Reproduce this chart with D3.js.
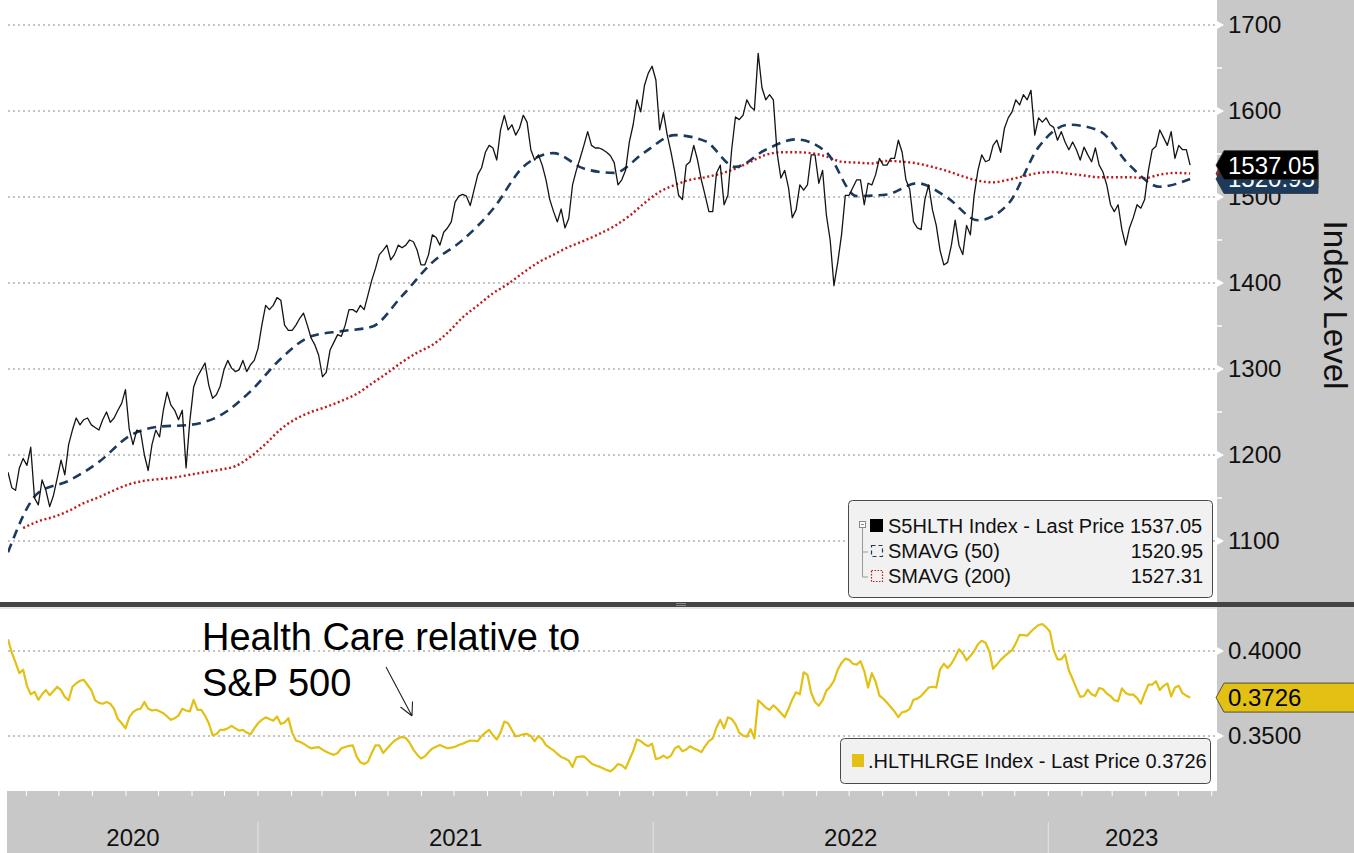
<!DOCTYPE html>
<html><head><meta charset="utf-8">
<script src="https://cdn.jsdelivr.net/npm/d3@7"></script>
<style>
body{margin:0;background:#fff}
svg{display:block}
text{font-family:"Liberation Sans",Arial,sans-serif}
</style>
</head><body>
<svg id="chart" width="1354" height="853"></svg>
<script>
// ---------- DATA ----------
const startDate = new Date(2020, 4, 15);   // first observation
const endDate = new Date(2023, 5, 4);      // right edge of the time axis
const stepHours = 84;                      // observations every 3.5 days
// S5HLTH Index (half-weekly)
const priceValues = [
 1180,1162,1159,1185,1196,1188,1209,1150,1142,1171,1159,1140,1153,1173,1194,1177,1212,1229,1243,1235,
 1241,1243,1235,1232,1229,1241,1250,1238,1243,1252,1260,1276,1230,1212,1229,1227,1200,1182,1212,1229,
 1221,1252,1273,1258,1252,1241,1252,1185,1240,1279,1291,1299,1307,1281,1266,1270,1280,1299,1310,1301,
 1297,1299,1310,1297,1305,1310,1324,1351,1374,1369,1374,1383,1380,1351,1345,1345,1351,1359,1365,1351,
 1336,1328,1316,1291,1296,1322,1331,1340,1338,1351,1369,1369,1366,1374,1369,1386,1403,1417,1433,1438,
 1444,1427,1433,1444,1441,1444,1450,1448,1438,1421,1421,1433,1456,1453,1444,1459,1464,1471,1494,1501,
 1503,1501,1490,1508,1526,1534,1552,1560,1557,1543,1578,1595,1578,1584,1572,1580,1595,1587,1555,1543,
 1549,1537,1520,1497,1483,1471,1486,1464,1475,1514,1531,1545,1560,1576,1560,1557,1557,1555,1552,1548,
 1540,1514,1520,1531,1564,1584,1613,1599,1630,1644,1652,1636,1578,1598,1572,1552,1529,1502,1497,1537,
 1541,1560,1543,1520,1502,1483,1483,1528,1537,1491,1502,1555,1593,1590,1595,1613,1605,1601,1667,1627,
 1613,1619,1613,1551,1522,1531,1511,1476,1485,1514,1508,1514,1549,1549,1516,1531,1479,1450,1397,1424,
 1456,1502,1502,1511,1520,1520,1491,1516,1514,1526,1545,1537,1537,1545,1545,1566,1552,1520,1509,1471,
 1464,1462,1497,1514,1485,1467,1438,1421,1424,1444,1473,1444,1433,1467,1456,1502,1531,1549,1541,1543,
 1560,1566,1552,1580,1592,1599,1613,1607,1619,1613,1624,1572,1592,1587,1592,1584,1581,1566,1576,1564,
 1555,1564,1555,1543,1558,1549,1541,1557,1537,1529,1514,1491,1483,1491,1462,1444,1464,1476,1491,1487,
 1497,1531,1555,1559,1578,1569,1560,1576,1545,1560,1555,1555,1537.05];
// SMAVG (50), every 4 weeks from startDate
const sma50Values = [
 1087,1156,1170,1192,1222,1233,1235,1246,1274,1312,
 1338,1344,1349,1385,1424,1450,1486,1535,1551,1533,
 1528,1552,1572,1565,1535,1555,1567,1552,1501,1503,
 1516,1499,1473,1492,1558,1584,1577,1537,1512,1520.95];
// SMAVG (200), every 2 weeks starting 2 weeks after startDate
const sma200Values = [
 1115,1123,1128,1135,1144,1151,1159,1166,1170,1172,
 1174,1177,1180,1183,1187,1198,1213,1230,1242,1250,
 1256,1263,1271,1283,1295,1308,1319,1328,1342,1360,
 1374,1388,1399,1412,1424,1433,1442,1449,1457,1466,
 1478,1493,1506,1514,1520,1523,1527,1533,1541,1549,
 1552,1552,1551,1547,1541,1540,1539,1542,1541,1539,
 1535,1530,1524,1519,1517,1520,1524,1528,1529,1527,
 1525,1523,1523,1523,1522,1526,1528,1527.31];
// .HLTHLRGE Index (Health Care relative to S&P 500), half-weekly
const relValues = [
 0.4069,0.399,0.3931,0.387,0.389,0.3795,0.3745,0.376,0.3713,0.3745,0.377,0.374,0.3765,0.379,0.377,0.373,0.371,0.379,0.381,0.3825,
 0.383,0.380,0.377,0.371,0.3695,0.369,0.370,0.369,0.366,0.360,0.3575,0.3545,0.361,0.364,0.3655,0.366,0.370,0.366,0.365,0.3654,
 0.3645,0.3634,0.3615,0.3595,0.3605,0.362,0.366,0.365,0.3645,0.3713,0.3654,0.3654,0.362,0.3575,0.3505,0.351,0.3536,0.3536,0.3545,0.356,
 0.3545,0.3532,0.3536,0.352,0.351,0.3545,0.3575,0.3595,0.361,0.360,0.359,0.3615,0.357,0.358,0.3605,0.352,0.3473,0.3466,0.3455,0.344,
 0.3427,0.3432,0.3435,0.342,0.3407,0.3397,0.3389,0.340,0.3428,0.3435,0.3442,0.3445,0.338,0.3345,0.3335,0.3348,0.340,0.3445,0.3445,0.340,
 0.3425,0.345,0.3472,0.3485,0.3495,0.3488,0.346,0.342,0.339,0.3368,0.338,0.3405,0.3427,0.3437,0.3447,0.3437,0.3428,0.3432,0.3437,0.3447,
 0.3455,0.3465,0.3473,0.3472,0.347,0.350,0.352,0.3536,0.3505,0.348,0.352,0.3585,0.3575,0.3535,0.3498,0.3503,0.351,0.3512,0.350,0.347,
 0.350,0.348,0.3447,0.343,0.3415,0.3395,0.3377,0.3368,0.3355,0.3318,0.3375,0.3379,0.338,0.336,0.3338,0.3328,0.332,0.331,0.330,0.3292,
 0.331,0.3335,0.3328,0.3308,0.336,0.341,0.348,0.347,0.3452,0.344,0.3455,0.3365,0.337,0.3385,0.337,0.3385,0.3427,0.344,0.341,0.342,
 0.344,0.3427,0.3417,0.3405,0.344,0.347,0.3486,0.355,0.3595,0.3545,0.361,0.360,0.357,0.352,0.3502,0.3496,0.354,0.3486,0.371,0.369,
 0.3667,0.3654,0.368,0.366,0.3635,0.361,0.366,0.3715,0.3757,0.3745,0.3875,0.386,0.3755,0.370,0.3678,0.371,0.3767,0.379,0.3825,0.389,
 0.393,0.3955,0.3948,0.3925,0.392,0.394,0.3882,0.3785,0.387,0.382,0.3738,0.372,0.3695,0.367,0.3644,0.3611,0.364,0.3645,0.366,0.3713,
 0.372,0.3735,0.376,0.3785,0.379,0.3785,0.3891,0.3925,0.390,0.3925,0.3965,0.401,0.3985,0.3945,0.397,0.400,0.404,0.406,0.4049,0.400,
 0.3895,0.392,0.3948,0.3968,0.3987,0.4005,0.4045,0.4095,0.4093,0.409,0.4115,0.4135,0.4153,0.4158,0.414,0.4115,0.4005,0.3951,0.3951,0.398,
 0.3885,0.3835,0.378,0.373,0.3735,0.3773,0.3745,0.3735,0.3782,0.3775,0.375,0.3735,0.371,0.3705,0.378,0.3753,0.3743,0.3743,0.3723,0.369,
 0.375,0.3802,0.3802,0.3822,0.377,0.3795,0.381,0.3733,0.3785,0.3795,0.3752,0.3737,0.3726];
const priceTicks = [1100,1200,1300,1400,1500,1600,1700];
const priceMinorTicks = [1150,1250,1350,1450,1550,1650];
const relTicks = [0.35,0.40];
const yearLabels = [2020,2021,2022,2023];
const legendTop = [
 {label:"S5HLTH Index - Last Price", value:"1537.05", kind:"price"},
 {label:"SMAVG (50)", value:"1520.95", kind:"sma50"},
 {label:"SMAVG (200)", value:"1527.31", kind:"sma200"}];
const legendBottom = {label:".HLTHLRGE Index - Last Price", value:"0.3726"};
const annotationLines = ["Health Care relative to","S&P 500"];

// ---------- STYLE ----------
const C = {grey:"#c8c8c8", price:"#141414", sma50:"#1b3a5c", sma200:"#c01818", rel:"#e2c014", grid:"#8a8a8a", text:"#111"};

const svg = d3.select("#chart");
const W = 1354, H = 853;
const plotL = 8, plotR = 1217, topB = 602, botT = 607, botB = 791;

const x = d3.scaleTime().domain([startDate, endDate]).range([8, 1215]);
const yTop = d3.scaleLinear().domain([1100, 1700]).range([541, 25]);
const yBot = d3.scaleLinear().domain([0.35, 0.40]).range([736, 651]);

const at = k => d3.timeHour.offset(startDate, stepHours * k);
const week = i => d3.timeDay.offset(startDate, 7 * i);
const priceData = priceValues.map((v, k) => ({d: at(k), v}));
const sma50Data = sma50Values.map((v, i) => ({d: week(4 * i), v}));
const sma200Data = sma200Values.map((v, i) => ({d: week(2 + 2 * i), v}));
const relData = relValues.map((v, k) => ({d: at(k), v}));

// backgrounds
svg.append("rect").attr("width", W).attr("height", H).attr("fill", "#fff");
svg.append("rect").attr("x", plotR).attr("y", 0).attr("width", W - plotR).attr("height", H).attr("fill", C.grey);
svg.append("rect").attr("x", 7).attr("y", botB).attr("width", plotR - 7).attr("height", H - botB).attr("fill", C.grey);

const defs = svg.append("defs");
defs.append("clipPath").attr("id", "clipTop").append("rect").attr("x", plotL).attr("y", 0).attr("width", plotR - plotL).attr("height", topB);
defs.append("clipPath").attr("id", "clipBot").append("rect").attr("x", plotL).attr("y", botT).attr("width", plotR - plotL).attr("height", botB - botT);

// gridlines
svg.append("g").selectAll("line").data(priceTicks).join("line")
  .attr("x1", plotL).attr("x2", plotR).attr("y1", d => yTop(d)).attr("y2", d => yTop(d))
  .attr("stroke", C.grid).attr("stroke-width", 1).attr("stroke-dasharray", "2,3");
svg.append("g").selectAll("line").data(relTicks).join("line")
  .attr("x1", plotL).attr("x2", plotR).attr("y1", d => yBot(d)).attr("y2", d => yBot(d))
  .attr("stroke", C.grid).attr("stroke-width", 1).attr("stroke-dasharray", "2,3");

// lines
const gTop = svg.append("g").attr("clip-path", "url(#clipTop)");
const lineTop = d3.line().x(d => x(d.d)).y(d => yTop(d.v));
const smoothTop = d3.line().x(d => x(d.d)).y(d => yTop(d.v)).curve(d3.curveMonotoneX);
gTop.append("path").datum(sma200Data).attr("d", smoothTop).attr("fill", "none")
  .attr("stroke", C.sma200).attr("stroke-width", 2.4).attr("stroke-dasharray", "2,2.6");
gTop.append("path").datum(sma50Data).attr("d", smoothTop).attr("fill", "none")
  .attr("stroke", C.sma50).attr("stroke-width", 2.6).attr("stroke-dasharray", "9,6");
gTop.append("path").datum(priceData).attr("d", lineTop).attr("fill", "none")
  .attr("stroke", C.price).attr("stroke-width", 1.3).attr("stroke-linejoin", "round");

const gBot = svg.append("g").attr("clip-path", "url(#clipBot)");
gBot.append("path").datum(relData).attr("d", d3.line().x(d => x(d.d)).y(d => yBot(d.v)))
  .attr("fill", "none").attr("stroke", C.rel).attr("stroke-width", 2.2).attr("stroke-linejoin", "round");

// divider between panels
svg.append("rect").attr("x", 0).attr("y", topB).attr("width", W).attr("height", 5).attr("fill", "#454545");
svg.append("line").attr("x1", 0).attr("x2", W).attr("y1", topB + 6).attr("y2", topB + 6).attr("stroke", "#d0d0d0");
svg.append("g").selectAll("line").data([0, 2]).join("line")
  .attr("x1", 676).attr("x2", 686).attr("y1", d => topB + 1.5 + d).attr("y2", d => topB + 1.5 + d)
  .attr("stroke", "#9a9a9a").attr("stroke-width", 0.8);

// right axes
function styleAxis(g) {
  g.select(".domain").remove();
  g.selectAll("text").attr("font-size", 24).attr("fill", C.text)
    .attr("font-family", '"Liberation Sans",Arial,sans-serif');
}
svg.append("g").attr("transform", `translate(${plotR},0)`)
  .call(d3.axisRight(yTop).tickValues(priceTicks).tickSize(0).tickPadding(11).tickFormat(d3.format("d")))
  .call(styleAxis);
svg.append("g").attr("transform", `translate(${plotR},0)`)
  .call(d3.axisRight(yBot).tickValues(relTicks).tickSize(0).tickPadding(11).tickFormat(d3.format(".4f")))
  .call(styleAxis);
// tick markers
const tri = y => `M${plotR},${y - 4}L${plotR + 7},${y}L${plotR},${y + 4}Z`;
svg.append("g").selectAll("path").data(priceTicks).join("path").attr("d", d => tri(yTop(d))).attr("fill", "#fff");
svg.append("g").selectAll("path").data(relTicks).join("path").attr("d", d => tri(yBot(d))).attr("fill", "#fff");
svg.append("g").selectAll("line").data(priceMinorTicks).join("line")
  .attr("x1", plotR).attr("x2", plotR + 5).attr("y1", d => yTop(d)).attr("y2", d => yTop(d))
  .attr("stroke", "#fff").attr("stroke-width", 1.5);

svg.append("text").attr("transform", "translate(1324,305) rotate(90)")
  .attr("text-anchor", "middle").attr("font-size", 33).attr("fill", C.text).text("Index Level");

// bottom time band
const months = d3.timeMonth.range(d3.timeMonth.ceil(startDate), endDate);
svg.append("g").selectAll("line").data(months).join("line")
  .attr("x1", d => x(d)).attr("x2", d => x(d)).attr("y1", botB).attr("y2", botB + 5)
  .attr("stroke", "#fff").attr("stroke-width", 1);
const yearStarts = yearLabels.slice(1).map(y => new Date(y, 0, 1));
svg.append("g").selectAll("line").data(yearStarts).join("line")
  .attr("x1", d => x(d)).attr("x2", d => x(d)).attr("y1", 822).attr("y2", H)
  .attr("stroke", "#e4e4e4").attr("stroke-width", 1);
svg.append("g").selectAll("text").data(yearLabels).join("text")
  .attr("x", y => {
    const a = Math.max(x(new Date(y, 0, 1)), x(startDate));
    const b = Math.min(x(new Date(y + 1, 0, 1)), x(endDate));
    return (a + b) / 2;
  })
  .attr("y", 846).attr("text-anchor", "middle").attr("font-size", 24).attr("fill", C.text)
  .text(d => d);

// top legend
const lg = svg.append("g");
lg.append("rect").attr("x", 848.5).attr("y", 500.5).attr("width", 364).attr("height", 97).attr("rx", 4)
  .attr("fill", "#f1f1f1").attr("stroke", "#4a4a4a").attr("stroke-width", 1);
const rowY = [533, 558, 583];
lg.append("rect").attr("x", 859.5).attr("y", 521.5).attr("width", 6).attr("height", 6).attr("fill", "#fff").attr("stroke", "#888");
lg.append("line").attr("x1", 861).attr("x2", 864).attr("y1", 524.5).attr("y2", 524.5).attr("stroke", "#888");
lg.append("path").attr("d", "M862.5,528V577M862.5,552H868M862.5,577H868").attr("fill", "none").attr("stroke", "#999");
legendTop.forEach((it, i) => {
  const cy = rowY[i] - 7;
  if (it.kind === "price") {
    lg.append("rect").attr("x", 870).attr("y", cy - 7).attr("width", 13).attr("height", 13).attr("fill", "#000");
    lg.append("text").attr("x", 888).attr("y", rowY[i]).attr("font-size", 20).attr("fill", C.text)
      .text(it.label + " " + it.value);
  } else {
    lg.append("rect").attr("x", 871.5).attr("y", cy - 5.5).attr("width", 11).attr("height", 11)
      .attr("fill", "none").attr("stroke", it.kind === "sma50" ? C.sma50 : C.sma200)
      .attr("stroke-width", 1.2).attr("stroke-dasharray", it.kind === "sma50" ? "4,3" : "1.5,1.5");
    lg.append("text").attr("x", 888).attr("y", rowY[i]).attr("font-size", 20).attr("fill", C.text).text(it.label);
    lg.append("text").attr("x", 1203).attr("y", rowY[i]).attr("text-anchor", "end").attr("font-size", 20)
      .attr("fill", C.text).text(it.value);
  }
});

// bottom legend
const lb = svg.append("g");
lb.append("rect").attr("x", 840.5).attr("y", 738.5).attr("width", 370).attr("height", 45).attr("rx", 4)
  .attr("fill", "#f1f1f1").attr("stroke", "#4a4a4a").attr("stroke-width", 1);
lb.append("rect").attr("x", 852).attr("y", 754).attr("width", 12).attr("height", 13).attr("fill", C.rel);
lb.append("text").attr("x", 868).attr("y", 768).attr("font-size", 20).attr("fill", C.text)
  .text(legendBottom.label + " " + legendBottom.value);

// last-value labels on the right axis
function valueTag(cy, fill, textFill, label, right) {
  const h = 29, tip = plotR - 1;
  svg.append("path")
    .attr("d", `M${tip},${cy}L${tip + 8},${cy - h / 2}L${right},${cy - h / 2}L${right},${cy + h / 2}L${tip + 8},${cy + h / 2}Z`)
    .attr("fill", fill).attr("stroke", "#333").attr("stroke-width", 0.8);
  if (label) svg.append("text").attr("x", 1228).attr("y", cy + 8.5).attr("font-size", 24).attr("fill", textFill).text(label);
}
// the SMAVG(200) tag is fully covered in the reference, so only its shape is drawn
valueTag(yTop(sma200Values[sma200Values.length - 1]), C.sma200, "#fff", null, 1318);
valueTag(yTop(sma50Values[sma50Values.length - 1]), C.sma50, "#fff", d3.format(".2f")(sma50Values[sma50Values.length - 1]), 1318);
valueTag(yTop(priceValues[priceValues.length - 1]), "#000", "#fff", d3.format(".2f")(priceValues[priceValues.length - 1]), 1318);
valueTag(yBot(relValues[relValues.length - 1]), C.rel, "#000", d3.format(".4f")(relValues[relValues.length - 1]), W + 2);

// annotation
const an = svg.append("g");
an.selectAll("text").data(annotationLines).join("text")
  .attr("x", 202).attr("y", (d, i) => 650 + i * 46).attr("font-size", 38).attr("fill", "#000").text(d => d);
an.append("path").attr("d", "M386,667L412,716M412,716L400.5,707M412,716L412.5,701.5")
  .attr("fill", "none").attr("stroke", "#222").attr("stroke-width", 1.1);
</script>
</body></html>
